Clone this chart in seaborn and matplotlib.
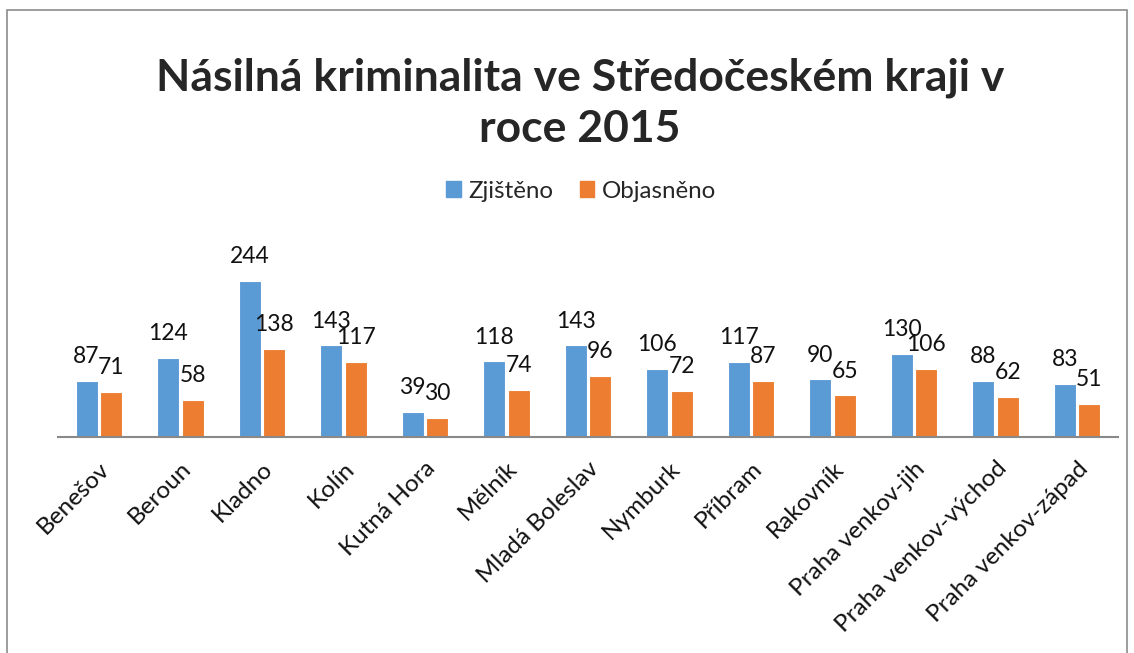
import matplotlib
matplotlib.use("Agg")
import matplotlib.pyplot as plt
import matplotlib.patches as mpatches
import pandas as pd
import seaborn as sns

okresy = ['Benešov', 'Beroun', 'Kladno', 'Kolín', 'Kutná Hora', 'Mělník',
          'Mladá Boleslav', 'Nymburk', 'Příbram', 'Rakovník',
          'Praha venkov-jih', 'Praha venkov-východ', 'Praha venkov-západ']
zjisteno = [87, 124, 244, 143, 39, 118, 143, 106, 117, 90, 130, 88, 83]
objasneno = [71, 58, 138, 117, 30, 74, 96, 72, 87, 65, 106, 62, 51]
serie = ['Zjištěno', 'Objasněno']
barvy = ['#5B9BD5', '#ED7D31']

df = pd.DataFrame({
    'okres': okresy * 2,
    'hodnota': zjisteno + objasneno,
    'serie': [serie[0]] * len(okresy) + [serie[1]] * len(okresy),
})

sns.set_style('white')
plt.rcParams['font.family'] = ['Lato', 'DejaVu Sans']

fig = plt.figure(figsize=(11.34, 6.53), dpi=100)
ax = fig.add_axes([58 / 1134, 1 - 437 / 653, 1060 / 1134, 192 / 653])

sns.barplot(data=df, x='okres', y='hodnota', hue='serie', order=okresy,
            hue_order=serie, palette=barvy, width=0.6, gap=0.1,
            saturation=1, edgecolor='white', linewidth=0.8, ax=ax)

for cont in ax.containers:
    ax.bar_label(cont, fontsize=16.5, padding=10, color='#111111')

ax.set_ylim(0, 300)
ax.set_xlim(-0.5, len(okresy) - 0.5)
ax.set_xlabel('')
ax.set_ylabel('')
ax.set_yticks([])
ax.tick_params(axis='x', length=0, pad=15)
plt.setp(ax.get_xticklabels(), rotation=45, ha='right',
         rotation_mode='anchor', fontsize=17.5, color='#111111')
for s in ['top', 'right', 'left']:
    ax.spines[s].set_visible(False)
ax.spines['bottom'].set_color('#898989')
ax.spines['bottom'].set_linewidth(1.5)

ax.legend_.remove()
handles = [mpatches.Patch(color=c, label=l) for c, l in zip(barvy, serie)]
fig.legend(handles=handles, loc='center', bbox_to_anchor=(581 / 1134, 1 - 191 / 653),
           ncol=2, frameon=False, fontsize=17.4, handlelength=0.6, handleheight=0.6,
           handletextpad=0.3, columnspacing=1.1)

fig.text(580 / 1134, 1 - 103 / 653,
         'Násilná kriminalita ve Středočeském kraji v\nroce 2015',
         ha='center', va='center', fontsize=32, fontweight='bold',
         linespacing=1.32)

# ramecek grafu
fig.add_artist(mpatches.Rectangle((7 / 1134, -0.1), 1120 / 1134, 1.1 - 10 / 653,
                                  transform=fig.transFigure, fill=False,
                                  edgecolor='#8c8c8c', linewidth=1.2))

fig.savefig('out.png', dpi=100, facecolor='white')
